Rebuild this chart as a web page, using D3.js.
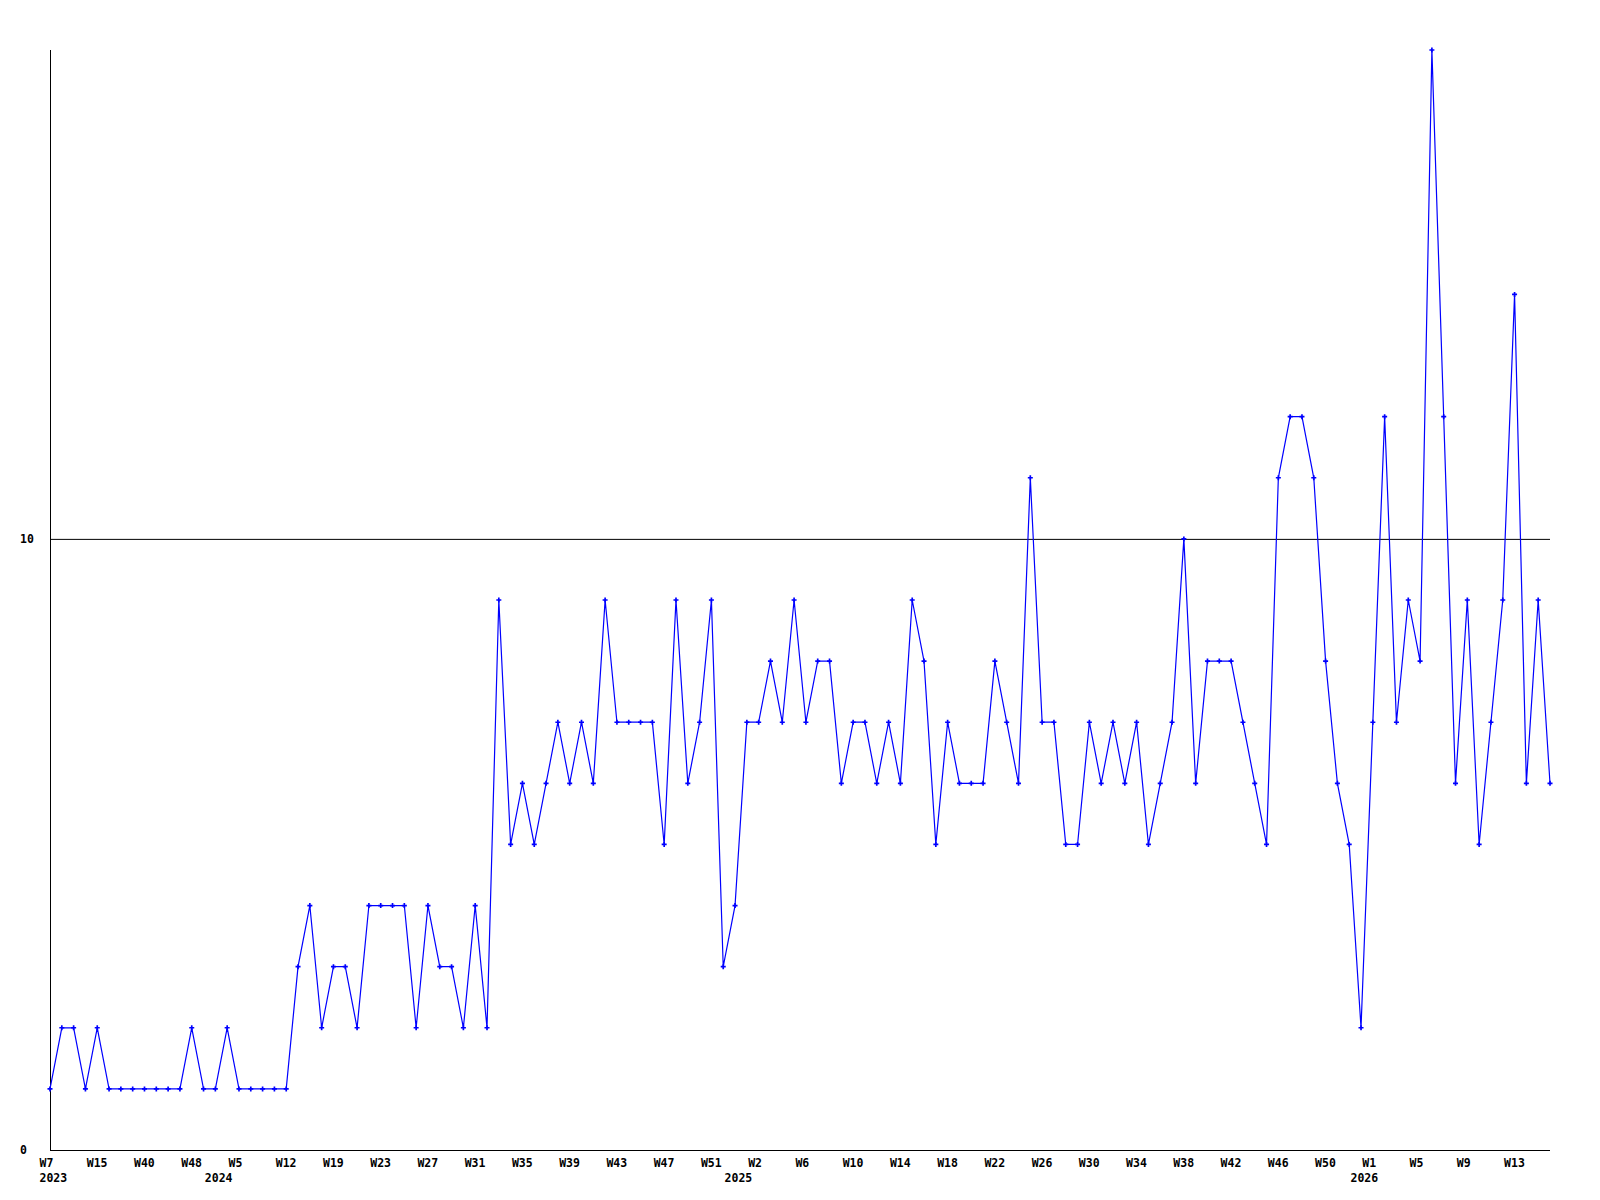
<!DOCTYPE html>
<html>
<head>
<meta charset="utf-8">
<script src="https://cdn.jsdelivr.net/npm/d3@7"></script>
<style>
  html, body { margin: 0; padding: 0; background: #fff; }
  svg text { font-family: "DejaVu Sans Mono", "Liberation Mono", monospace; font-weight: bold; font-size: 11.5px; fill: #000; }
</style>
</head>
<body>
<svg id="chart" width="1600" height="1200"></svg>
<script>
// weekly counts, one per data point (weeks without data are skipped)
const values = [
  1, 2, 2, 1, 2, 1, 1, 1, 1, 1,
  1, 1, 2, 1, 1, 2, 1, 1, 1, 1,
  1, 3, 4, 2, 3, 3, 2, 4, 4, 4,
  4, 2, 4, 3, 3, 2, 4, 2, 9, 5,
  6, 5, 6, 7, 6, 7, 6, 9, 7, 7,
  7, 7, 5, 9, 6, 7, 9, 3, 4, 7,
  7, 8, 7, 9, 7, 8, 8, 6, 7, 7,
  6, 7, 6, 9, 8, 5, 7, 6, 6, 6,
  8, 7, 6, 11, 7, 7, 5, 5, 7, 6,
  7, 6, 7, 5, 6, 7, 10, 6, 8, 8,
  8, 7, 6, 5, 11, 12, 12, 11, 8, 6,
  5, 2, 7, 12, 7, 9, 8, 18, 12, 6,
  9, 5, 7, 9, 14, 6, 9, 6
];

// a week label on every 4th point
const tickEvery = 4;
const weekTicks = [
  "W7", "W15", "W40", "W48", "W5", "W12", "W19", "W23", "W27", "W31", "W35",
  "W39", "W43", "W47", "W51", "W2", "W6", "W10", "W14", "W18", "W22", "W26",
  "W30", "W34", "W38", "W42", "W46", "W50", "W1", "W5", "W9", "W13"
];

// year labels and the point index they sit under
const years = ["2023", "2024", "2025", "2026"];
const yearAt = [0, 14, 58, 111];

const yTicks = [0, 10];
const yMax = 18;

const margin = {left: 50, right: 50, top: 50, bottom: 50};
const width = 1600, height = 1200;
const labelShift = -10.5; // labels start a bit left of their point

const svg = d3.select("#chart");

const x = d3.scaleLinear()
  .domain([0, values.length - 1])
  .range([margin.left, width - margin.right]);

const y = d3.scaleLinear()
  .domain([0, yMax])
  .range([height - margin.bottom, margin.top]);

// horizontal reference line at 10 and the axes
svg.append("g")
  .selectAll("line")
  .data(yTicks.filter(t => t > 0))
  .enter().append("line")
    .attr("x1", x(0)).attr("x2", x(values.length - 1))
    .attr("y1", d => y(d) + 0.5).attr("y2", d => y(d) + 0.5)
    .attr("stroke", "#000").attr("stroke-width", 1);

svg.append("line")
  .attr("x1", x(0) + 0.5).attr("x2", x(0) + 0.5)
  .attr("y1", y(yMax)).attr("y2", y(0))
  .attr("stroke", "#000");

svg.append("line")
  .attr("x1", x(0)).attr("x2", x(values.length - 1))
  .attr("y1", y(0) + 0.5).attr("y2", y(0) + 0.5)
  .attr("stroke", "#000");

// y labels
svg.append("g")
  .selectAll("text")
  .data(yTicks)
  .enter().append("text")
    .attr("x", 20)
    .attr("y", d => y(d))
    .attr("dy", "0.35em")
    .text(d => d);

// week labels
svg.append("g")
  .selectAll("text")
  .data(weekTicks)
  .enter().append("text")
    .attr("x", (d, i) => x(i * tickEvery) + labelShift)
    .attr("y", y(0) + 13)
    .attr("dy", "0.35em")
    .text(d => d);

// year labels
svg.append("g")
  .selectAll("text")
  .data(years)
  .enter().append("text")
    .attr("x", (d, i) => x(yearAt[i]) + labelShift)
    .attr("y", y(0) + 28)
    .attr("dy", "0.35em")
    .text(d => d);

// the series
const line = d3.line()
  .x((d, i) => x(i))
  .y(d => y(d));

svg.append("path")
  .datum(values)
  .attr("fill", "none")
  .attr("stroke", "#0000ff")
  .attr("stroke-width", 1.2)
  .attr("d", line);

svg.append("g")
  .selectAll("path")
  .data(values)
  .enter().append("path")
    .attr("transform", (d, i) => `translate(${x(i)},${y(d)})`)
    .attr("d", d3.symbol(d3.symbolCross, 14))
    .attr("fill", "#0000ff");
</script>
</body>
</html>
